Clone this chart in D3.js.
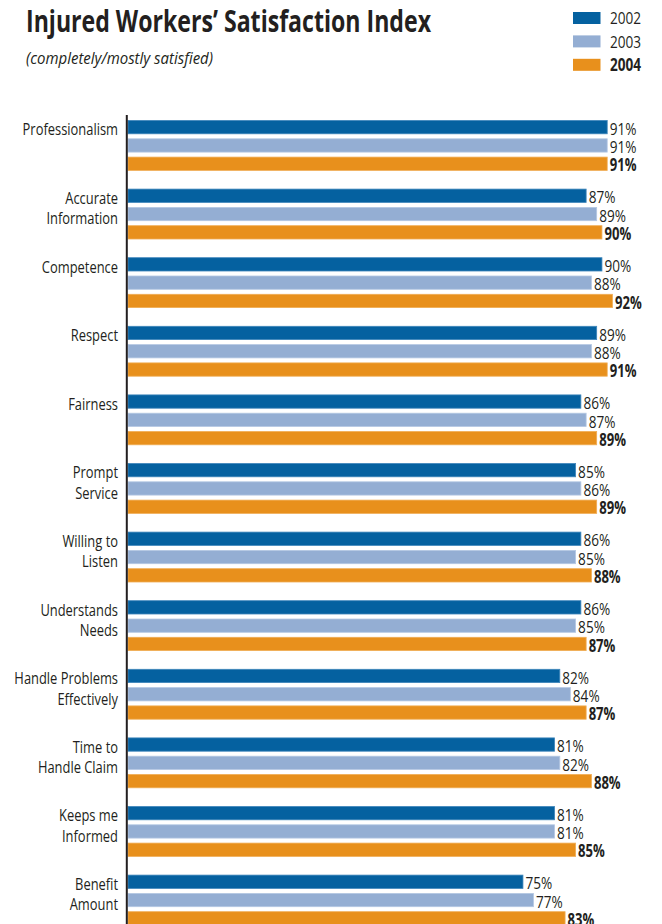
<!DOCTYPE html>
<html>
<head>
<meta charset="utf-8">
<script src="https://cdn.jsdelivr.net/npm/d3@7"></script>
<style>
  html, body { margin: 0; padding: 0; background: #ffffff; }
  svg { display: block; }
  text { font-family: "Open Sans", "Noto Sans", sans-serif; fill: #231f20; }
</style>
</head>
<body>
<svg id="chart" width="662" height="924"></svg>
<script>
// Satisfaction items (label lines) and survey results per year, in percent
const categories = [
  ["Professionalism"],
  ["Accurate", "Information"],
  ["Competence"],
  ["Respect"],
  ["Fairness"],
  ["Prompt", "Service"],
  ["Willing to", "Listen"],
  ["Understands", "Needs"],
  ["Handle Problems", "Effectively"],
  ["Time to", "Handle Claim"],
  ["Keeps me", "Informed"],
  ["Benefit", "Amount"]
];
const years = ["2002", "2003", "2004"];
const values2002 = [91, 87, 90, 89, 86, 85, 86, 86, 82, 81, 81, 75];
const values2003 = [91, 89, 88, 88, 87, 86, 85, 85, 84, 82, 81, 77];
const values2004 = [91, 90, 92, 91, 89, 89, 88, 87, 87, 88, 85, 83];
const colors = ["#0561a0", "#94aed3", "#e8901c"];
const strokes = ["#3f86bb", "#b5c8e3", "#f0ad55"];

const seriesValues = [values2002, values2003, values2004];
const keys = categories.map(c => c.join(" "));
const rows = keys.map((k, i) => ({
  key: k,
  lines: categories[i],
  vals: years.map((y, j) => ({ year: y, j, value: seriesValues[j][i] }))
}));

const svg = d3.select("#chart");

// Horizontally condensed text helper: anchor point (x, y), squeeze factor sx
function condensed(parent, x, y, sx) {
  return parent.append("g")
    .attr("transform", `translate(${x},${y})`)
    .append("text")
    .attr("transform", `scale(${sx},1)`);
}

const x = d3.scaleLinear().domain([0, 100]).range([128, 128 + 526.6]);
const y = d3.scaleBand().domain(keys).range([120.5, 120.5 + 12 * 68.6]);
const yInner = d3.scaleBand().domain(years).range([0, 49.9]).paddingInner(0.273);

// Title and subtitle
svg.append("text")
  .attr("x", 26).attr("y", 31.5)
  .style("font-size", "30px").style("font-weight", "bold")
  .attr("textLength", 405).attr("lengthAdjust", "spacingAndGlyphs")
  .text("Injured Workers’ Satisfaction Index");
svg.append("text")
  .attr("x", 26).attr("y", 63.5)
  .style("font-size", "15.5px").style("font-style", "italic")
  .attr("textLength", 187).attr("lengthAdjust", "spacingAndGlyphs")
  .text("(completely/mostly satisfied)");

// Legend
const legend = svg.append("g").attr("transform", "translate(573,12)");
years.forEach((yr, i) => {
  legend.append("rect")
    .attr("y", i * 23.4)
    .attr("width", 27.5).attr("height", 12)
    .attr("fill", colors[i]);
  condensed(legend, 37, i * 23.4 + 12.3, 0.8)
    .style("font-size", "17px")
    .style("font-weight", i === 2 ? "bold" : "normal")
    .text(yr);
});

// Bar groups
const groups = svg.append("g").selectAll("g").data(rows).join("g")
  .attr("transform", d => `translate(0,${y(d.key)})`);

groups.selectAll("rect").data(d => d.vals).join("rect")
  .attr("x", x(0))
  .attr("y", d => yInner(d.year))
  .attr("width", d => x(d.value) - x(0))
  .attr("height", yInner.bandwidth())
  .attr("fill", d => colors[d.j])
  .attr("stroke", d => strokes[d.j])
  .attr("stroke-width", 0.8);

// Value labels
groups.each(function(d) {
  const g = d3.select(this);
  d.vals.forEach(v => {
    condensed(g, x(v.value) + 2.5, yInner(v.year) + yInner.bandwidth() + 1, v.j === 2 ? 0.77 : 0.8)
      .style("font-size", "17px")
      .style("font-weight", v.j === 2 ? "bold" : "normal")
      .text(v.value + "%");
  });
});

// Category labels
groups.each(function(d) {
  const g = d3.select(this);
  d.lines.forEach((line, k) => {
    condensed(g, 118, yInner("2002") + yInner.bandwidth() + 1.5 + k * 20.5, 0.76)
      .attr("text-anchor", "end")
      .style("font-size", "17px")
      .text(line);
  });
});

// Vertical axis line
svg.append("line")
  .attr("x1", 126.8).attr("x2", 126.8)
  .attr("y1", 115).attr("y2", 924)
  .attr("stroke", "#231f20").attr("stroke-width", 2);
</script>
</body>
</html>
